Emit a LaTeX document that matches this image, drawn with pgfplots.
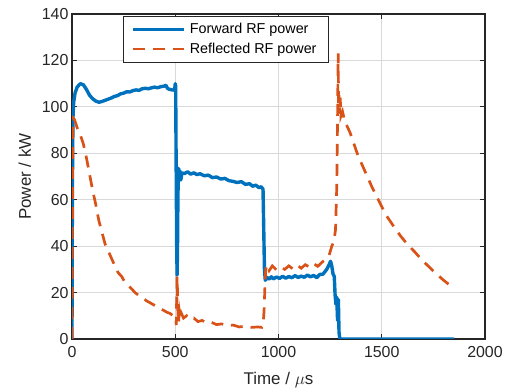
\documentclass[border=0pt]{standalone}
\usepackage{pgfplots}
\pgfplotsset{compat=1.18}
\usepackage{fontspec}
\setmainfont{Liberation Sans}
\definecolor{mblue}{rgb}{0,0.447,0.741}
\definecolor{morange}{rgb}{0.85,0.325,0.098}
\definecolor{axgray}{HTML}{262626}
\begin{document}
\begin{tikzpicture}
\begin{axis}[
  name=ax,
  scale only axis,
  width=413bp, height=325bp,
  xmin=0, xmax=2000, ymin=0, ymax=140,
  xtick={0,500,1000,1500,2000},
  ytick={0,20,40,60,80,100,120,140},
  /pgf/number format/assume math mode=true,
  /pgf/number format/1000 sep={},
  tick label style={font=\fontsize{16}{19}\selectfont, text=axgray},
  xticklabel style={yshift=-4bp},
  label style={font=\fontsize{17}{20}\selectfont, text=axgray},
  xlabel={Time / $\mu$s},
  ylabel={Power / kW},
  xlabel style={at={(axis description cs:0.5,-0.126)}, anchor=center},
  ylabel style={at={(axis description cs:-0.114,0.5)}, anchor=center},
  tick align=inside,
  major tick length=5bp,
  every tick/.style={axgray, line width=0.9bp},
  axis line style={axgray, line width=1.1bp},
  grid=major,
  grid style={color=black!15, line width=0.8bp},
  legend cell align=left,
  legend style={at={(0.1235,0.994)}, anchor=north west, draw=axgray, line width=0.7bp,
    fill=white, font=\fontsize{14.4}{17}\selectfont, inner xsep=8bp, inner ysep=5bp,
    row sep=4bp, nodes={inner xsep=4bp}},
  legend image code/.code={\draw[#1] (0bp,0bp) -- (51bp,0bp);},
]
\addplot[mblue, line width=3.4bp, line join=round] coordinates {
(0,0) (1,40) (3,80) (5,96) (8,102) (15,106) (25,108.5) (40,110) (55,109.5) (70,107.5)
(85,105) (100,103.5) (115,102.5) (130,102) (145,102.3) (160,102.8) (175,103.3) (190,103.8)
(205,104.5) (220,104.8) (235,105.6) (250,105.9) (265,106.5) (280,106.4) (295,107) (310,107.3)
(325,107.1) (340,107.8) (355,108) (370,107.8) (385,108.2) (400,108.5) (415,108.2) (430,108.7)
(445,108.9) (455,109.3) (462,108) (470,107.6) (485,107.3) (497,107.2) (500,110) (502,109)
(504,80) (507,40) (509,27.5) (511,40) (513,62) (516,73.5) (519,70) (522,72.5) (527,68.5)
(532,71.5) (545,71.3) (560,72) (575,71) (590,71.6) (605,70.8) (620,71.2) (640,70.3) (660,70.6)
(680,69.5) (700,69.8) (720,68.9) (740,69.2) (760,68.2) (780,67.9) (800,67.4) (820,67.8)
(840,66.6) (860,66.9) (875,65.8) (890,66.3) (905,65.2) (915,65.6) (925,64.6) (928,50)
(932,30) (936,25.3) (945,26.5) (955,25.8) (965,26.8) (975,25.9) (990,26.7) (1005,26.1)
(1020,27) (1035,26.2) (1050,26.9) (1065,26.4) (1080,27.3) (1095,26.5) (1110,27.1) (1125,26.6)
(1140,27.5) (1155,26.8) (1170,27.4) (1185,26.4) (1200,27.8) (1215,27.9) (1225,29) (1235,30.2)
(1245,32) (1252,33.5) (1258,31.5) (1264,28) (1270,27) (1274,19) (1278,15) (1282,18) (1286,8)
(1290,17) (1293,3) (1297,0) (1300,0) (1850,0)
};
\addlegendentry{Forward RF power}
\addplot[morange, line width=2.7bp, dash pattern=on 12bp off 8bp] coordinates {
(0,0) (2,50) (4,90) (7,95) (12,94.5) (25,91) (40,88) (55,84) (70,78) (85,71) (100,64)
(115,58) (130,51) (145,46) (160,41) (175,38) (190,35) (205,32) (224,28.5) (240,27) (256,24.5)
(272,23) (290,21.5) (305,20) (320,19) (340,18) (360,16.5) (380,15.5) (400,14.5) (420,13.5)
(440,12.5) (460,11.5) (475,11) (490,10) (502,9) (505,6) (507,18) (509,27) (511,20) (513,10)
(516,7) (520,12) (525,9) (530,11) (540,9) (555,10) (570,8.5) (590,9) (610,7.5) (630,8)
(650,7) (675,7.2) (700,6.2) (725,6.5) (750,5.8) (780,6) (810,5.2) (840,5.5) (870,5) (900,5.2)
(920,5) (925,5.5) (930,12) (934,22) (938,30) (945,32) (955,29.5) (970,31.5) (990,29.8)
(1010,31) (1030,30) (1050,31.5) (1070,30.2) (1090,31.8) (1110,30.5) (1130,32) (1150,31)
(1170,32.5) (1190,31.3) (1210,33) (1230,34.5) (1245,36) (1258,40) (1268,42) (1276,47)
(1282,65) (1286,95) (1289,123) (1291,100) (1293,105) (1296,97) (1299,104) (1302,96)
(1310,98) (1320,94) (1346,89) (1385,79) (1420,72) (1455,65) (1491,58.6) (1520,53.5)
(1554,49) (1590,44.5) (1622,41) (1660,37.5) (1695,34) (1730,31) (1760,28.4) (1797,25.5)
(1825,23.5) (1850,22)
};
\addlegendentry{Reflected RF power}
\end{axis}
\pgfresetboundingbox
\path ([shift={(-72bp,-52bp)}]ax.south west) rectangle ([shift={(21bp,14bp)}]ax.north east);
\end{tikzpicture}
\end{document}
